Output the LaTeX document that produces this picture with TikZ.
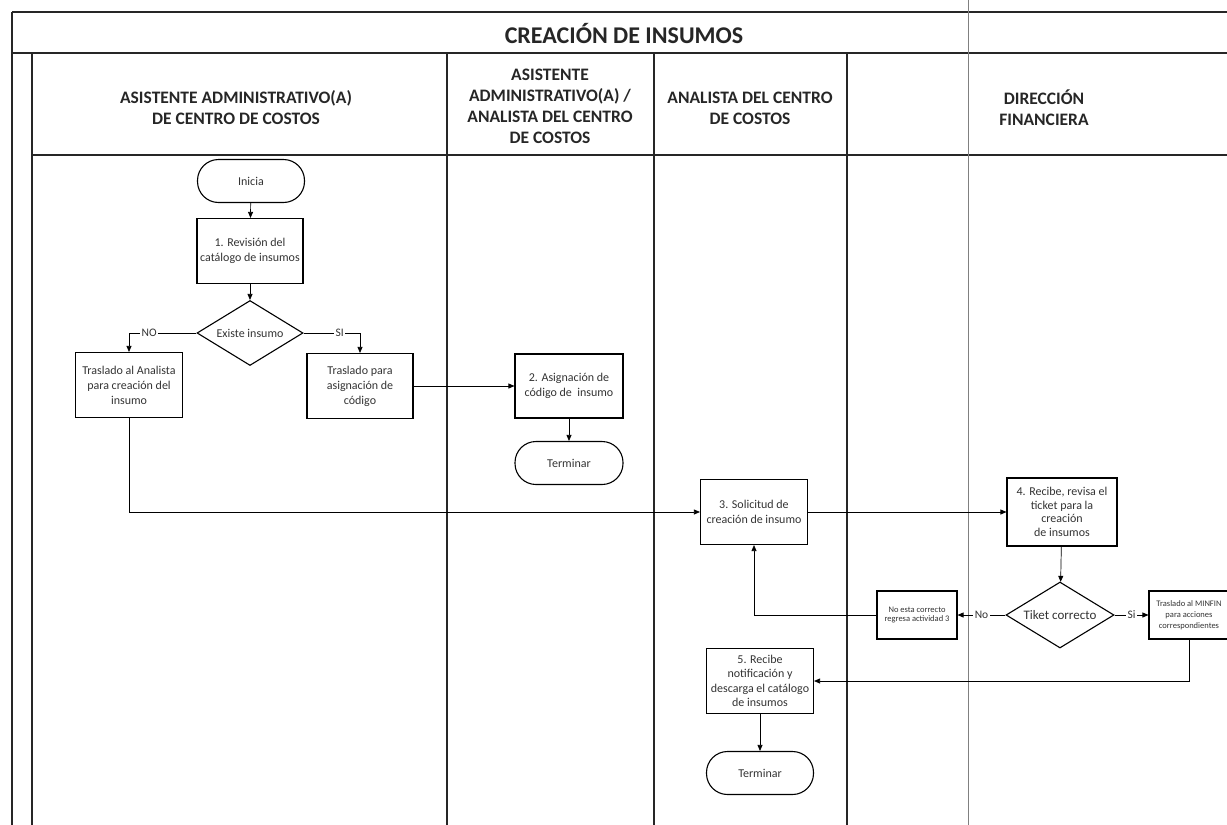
\documentclass[tikz,border=0pt]{standalone}
\usepackage{fontspec}
\setmainfont{Carlito}
\usepackage{tikz}
\usetikzlibrary{shapes.geometric,arrows.meta}

\begin{document}
\begin{tikzpicture}[x=1pt,y=-1pt,
    marco/.style={line width=1.1pt, black!85},
    proceso/.style={draw, line width=1.1pt, align=center, minimum width=106pt,
      minimum height=65pt, inner sep=2pt, text=black!80, font=\fontsize{12}{15}\selectfont},
    decision/.style={draw, diamond, aspect=1.6, line width=1.1pt, inner sep=0pt,
      minimum width=106pt, minimum height=65pt, text=black!80, font=\fontsize{12}{14}\selectfont},
    terminal/.style={draw, rectangle, rounded corners=21pt, line width=1.1pt,
      minimum width=107pt, minimum height=43pt, text=black!80, font=\fontsize{12}{14}\selectfont},
    flecha/.style={line width=0.7pt, -{Triangle[length=6pt,width=5pt]}},
    etiqueta/.style={fill=white, inner sep=1.5pt, text=black!80, font=\fontsize{11.5}{13}\selectfont},
    encabezado/.style={align=center, text=black!85, font=\bfseries\fontsize{17.5}{21}\selectfont}]
  \useasboundingbox (0,0) rectangle (1227,825);

  % marco y carriles
  \draw[marco] (12,12) -- (1227,12);
  \draw[marco] (12,53) -- (1227,53);
  \draw[marco] (32,155) -- (1227,155);
  \draw[marco] (12,12) -- (12,825);
  \draw[marco] (32,53) -- (32,825);
  \draw[marco] (447,53) -- (447,825);
  \draw[marco] (654,53) -- (654,825);
  \draw[marco] (847,53) -- (847,825);
  \draw[gray, line width=0.5pt] (968,0) -- (968,825);

  \node[encabezado, font=\bfseries\fontsize{24}{28}\selectfont] (titulo) at (624,34) {CREACIÓN DE INSUMOS};
  \node[encabezado] (carril1) at (236,108) {ASISTENTE ADMINISTRATIVO(A)\\DE CENTRO DE COSTOS};
  \node[encabezado] (carril2) at (550,106) {ASISTENTE\\ADMINISTRATIVO(A) /\\ANALISTA DEL CENTRO\\DE COSTOS};
  \node[encabezado] (carril3) at (750,108) {ANALISTA DEL CENTRO\\DE COSTOS};
  \node[encabezado] (carril4) at (1044,108) {DIRECCIÓN\\FINANCIERA};

  % nodos
  \node[terminal] (inicia) at (251,181) {Inicia};
  \node[proceso] (p1) at (250,251) {1. Revisión del\\catálogo de insumos};
  \node[decision] (d1) at (250,333) {Existe insumo};
  \node[proceso, minimum width=107pt] (pA) at (129,385) {Traslado al Analista\\para creación del\\insumo};
  \node[proceso] (pB) at (360,386) {Traslado para\\asignación de\\código};
  \node[proceso, minimum width=108pt, minimum height=64pt] (p2) at (569,386) {2. Asignación de\\código de \ insumo};
  \node[terminal, minimum width=108pt] (fin1) at (569,463) {Terminar};
  \node[proceso, minimum width=107pt] (p3) at (754,512) {3. Solicitud de\\creación de insumo};
  \node[proceso, minimum width=110pt, minimum height=68pt, font=\fontsize{12}{13.5}\selectfont] (p4) at (1062,512) {4. Recibe, revisa el\\ticket para la\\creación\\de insumos};
  \node[decision, minimum width=108pt, minimum height=66pt, font=\fontsize{13}{15}\selectfont] (d2) at (1060,615) {Tiket correcto};
  \node[proceso, minimum width=80pt, minimum height=48pt, font=\fontsize{8.5}{9.5}\selectfont] (pNo) at (917,615) {No esta correcto\\regresa actividad 3};
  \node[proceso, minimum width=80pt, minimum height=48pt, font=\fontsize{8.5}{11}\selectfont] (pSi) at (1189,615) {Traslado al MINFIN\\para acciones\\correspondientes};
  \node[proceso, minimum width=107pt, font=\fontsize{12}{14.5}\selectfont] (p5) at (760,681) {5. Recibe\\notificación y\\descarga el catálogo\\de insumos};
  \node[terminal] (fin2) at (760,773) {Terminar};

  % conectores
  \draw[flecha] (inicia) -- (p1);
  \draw[flecha] (p1) -- (d1);
  \draw[flecha] (d1.west) -| node[etiqueta, pos=0.35] {NO} (pA.north);
  \draw[flecha] (d1.east) -| node[etiqueta, pos=0.32] {SI} (pB.north);
  \draw[flecha] (pB.east) -- (p2.west);
  \draw[flecha] (p2) -- (fin1);
  \draw[flecha] (pA.south) |- (p3.west);
  \draw[flecha] (p3.east) -- (p4.west);
  \draw[flecha] (p4) -- (d2);
  \draw[flecha] (d2.west) -- node[etiqueta] {No} (pNo.east);
  \draw[flecha] (d2.east) -- node[etiqueta] {Si} (pSi.west);
  \draw[flecha] (pNo.west) -| (p3.south);
  \draw[flecha] (pSi.south) |- (p5.east);
  \draw[flecha] (p5) -- (fin2);
\end{tikzpicture}
\end{document}
